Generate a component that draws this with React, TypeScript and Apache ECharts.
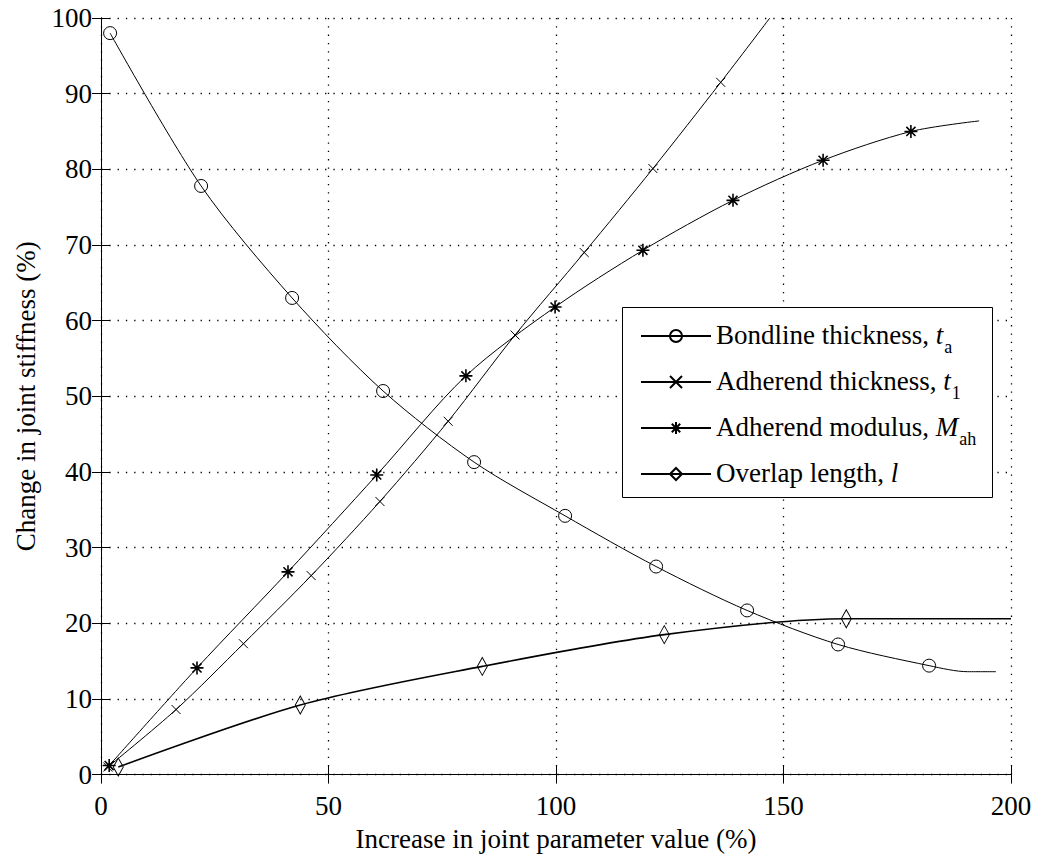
import React, { useEffect, useRef } from "react";
import * as echarts from "echarts";

// ---- Data ----
// Bondline thickness (circles)
const bondlineX = [2, 22, 42, 62, 82, 102, 122, 142, 162, 182];
const bondlineY = [98, 77.8, 63, 50.7, 41.3, 34.2, 27.5, 21.7, 17.2, 14.4];
const bondlineTailX = [190.5, 196.7];
const bondlineTailY = [13.6, 13.6];

// Adherend thickness (x markers)
const thicknessX = [1.5, 16.5, 31.3, 46.2, 61.3, 76.3, 91, 106.2, 121.3, 136.2];
const thicknessY = [1, 8.6, 17.3, 26.3, 36.1, 46.7, 58.1, 69.0, 80.1, 91.5];
const thicknessTailX = [147];
const thicknessTailY = [100];

// Adherend modulus (asterisks)
const modulusX = [1.8, 21.1, 41.1, 60.6, 80.2, 99.8, 119.1, 138.9, 158.7, 178];
const modulusY = [1.2, 14.1, 26.8, 39.6, 52.7, 61.8, 69.3, 75.9, 81.2, 85.0];
const modulusTailX = [193];
const modulusTailY = [86.4];

// Overlap length (diamonds)
const overlapX = [3.8, 43.8, 83.8, 123.8, 163.8];
const overlapY = [1.0, 9.2, 14.3, 18.5, 20.6];
const overlapTailX = [200];
const overlapTailY = [20.6];

const seriesNames = [
  "Bondline thickness, ta",
  "Adherend thickness, t1",
  "Adherend modulus, Mah",
  "Overlap length, l",
];
const legendRich: Record<string, string> = {
  "Bondline thickness, ta": "{n|Bondline thickness, }{i|t}{s|a}",
  "Adherend thickness, t1": "{n|Adherend thickness, }{i|t}{s|1}",
  "Adherend modulus, Mah": "{n|Adherend modulus, }{i|M}{s|ah}",
  "Overlap length, l": "{n|Overlap length, }{i|l}",
};

const xTicksInterval = 50;
const yTicksInterval = 10;

const FONT = "'Liberation Serif', 'Times New Roman', serif";
const FS = 27;

function buildData(xs: number[], ys: number[], tx: number[], ty: number[]) {
  const out: any[] = [];
  xs.forEach((x, i) => out.push({ value: [x, ys[i]] }));
  tx.forEach((x, i) => out.push({ value: [x, ty[i]], symbol: "none" }));
  return out;
}

const SYM_X = "path://M0,0L10,10M10,0L0,10";
const SYM_STAR = "path://M5,0L5,10M0,5L10,5M1.5,1.5L8.5,8.5M8.5,1.5L1.5,8.5";
const SYM_DIAMOND = "path://M5,0L10,10L5,20L0,10Z";
const SYM_CIRCLE = "path://M10,5A5,5,0,1,1,0,5A5,5,0,1,1,10,5Z";

export default function App() {
  const ref = useRef<HTMLDivElement>(null);
  useEffect(() => {
    if (!ref.current) return;
    const chart = echarts.init(ref.current, undefined, { renderer: "svg" });
    const axisCommon = {
      axisLine: { show: true, lineStyle: { color: "#000", width: 1 } },
      axisTick: { show: true, inside: true, length: 9, lineStyle: { color: "#000", width: 1 } },
    };
    const lineCommon = {
      type: "line",
      smooth: 0.3,
      lineStyle: { color: "#000", width: 1 },
      emphasis: { disabled: true },
      z: 3,
    };
    chart.setOption({
      animation: false,
      backgroundColor: "#fff",
      grid: { left: 101, right: 30, top: 18, bottom: 76, containLabel: false },
      xAxis: [
        {
          type: "value",
          min: 0,
          max: 200,
          interval: xTicksInterval,
          name: "Increase in joint parameter value (%)",
          nameLocation: "middle",
          nameGap: 40,
          nameTextStyle: { fontFamily: FONT, fontSize: FS, color: "#000", lineHeight: 30 },
          axisLabel: { fontFamily: FONT, fontSize: FS, color: "#000", margin: 18, lineHeight: 26 },
          splitLine: { show: true, lineStyle: { color: "#000", width: 1.3, type: [1.3, 7] } },
          ...axisCommon,
        },
        {
          type: "value",
          position: "top",
          min: 0,
          max: 200,
          interval: xTicksInterval,
          axisLabel: { show: false },
          splitLine: { show: false },
          ...axisCommon,
        },
      ],
      yAxis: [
        {
          type: "value",
          min: 0,
          max: 100,
          interval: yTicksInterval,
          name: "Change in joint stiffness (%)",
          nameLocation: "middle",
          nameGap: 58,
          nameTextStyle: { fontFamily: FONT, fontSize: FS, color: "#000", lineHeight: 30 },
          axisLabel: { fontFamily: FONT, fontSize: FS, color: "#000", margin: 9 },
          splitLine: { show: true, lineStyle: { color: "#000", width: 1.3, type: [1.3, 7] } },
          ...axisCommon,
        },
        {
          type: "value",
          position: "right",
          min: 0,
          max: 100,
          interval: yTicksInterval,
          axisLabel: { show: false },
          splitLine: { show: false },
          ...axisCommon,
        },
      ],
      graphic: [
        {
          type: "rect",
          left: 622,
          top: 307,
          shape: { width: 370, height: 190 },
          style: { fill: "#fff", stroke: "#000", lineWidth: 1 },
          z: 5,
        },
      ],
      legend: {
        show: true,
        orient: "vertical",
        left: 635,
        top: 316,
        itemWidth: 70,
        itemHeight: 15,
        itemGap: 11,
        z: 6,
        data: seriesNames,
        formatter: (name: string) => legendRich[name] || name,
        textStyle: {
          fontFamily: FONT,
          fontSize: FS,
          color: "#000",
          rich: {
            n: { fontFamily: FONT, fontSize: FS, color: "#000", lineHeight: 30, verticalAlign: "top" },
            i: { fontFamily: FONT, fontSize: FS, color: "#000", fontStyle: "italic", lineHeight: 30, verticalAlign: "top" },
            s: { fontFamily: FONT, fontSize: 18, color: "#000", lineHeight: 18, padding: [17, 0, 0, 1], verticalAlign: "top" },
          },
        },
      },
      series: [
        {
          ...lineCommon,
          name: seriesNames[0],
          symbol: SYM_CIRCLE,
          symbolSize: 13,
          itemStyle: { color: "none", borderColor: "#000", borderWidth: 1 },
          data: buildData(bondlineX, bondlineY, bondlineTailX, bondlineTailY),
        },
        {
          ...lineCommon,
          name: seriesNames[1],
          symbol: SYM_X,
          symbolSize: 9,
          itemStyle: { color: "none", borderColor: "#000", borderWidth: 1 },
          data: buildData(thicknessX, thicknessY, thicknessTailX, thicknessTailY),
        },
        {
          ...lineCommon,
          name: seriesNames[2],
          symbol: SYM_STAR,
          symbolSize: 13,
          itemStyle: { color: "none", borderColor: "#000", borderWidth: 1.6 },
          data: buildData(modulusX, modulusY, modulusTailX, modulusTailY),
        },
        {
          ...lineCommon,
          name: seriesNames[3],
          symbol: SYM_DIAMOND,
          symbolSize: [10, 18],
          lineStyle: { color: "#000", width: 1.6 },
          itemStyle: { color: "none", borderColor: "#000", borderWidth: 1 },
          data: buildData(overlapX, overlapY, overlapTailX, overlapTailY),
        },
      ],
    });
    return () => chart.dispose();
  }, []);
  return (
    <div
      ref={ref}
      style={{ position: "fixed", left: 0, top: 0, width: 1041, height: 859 }}
    />
  );
}
